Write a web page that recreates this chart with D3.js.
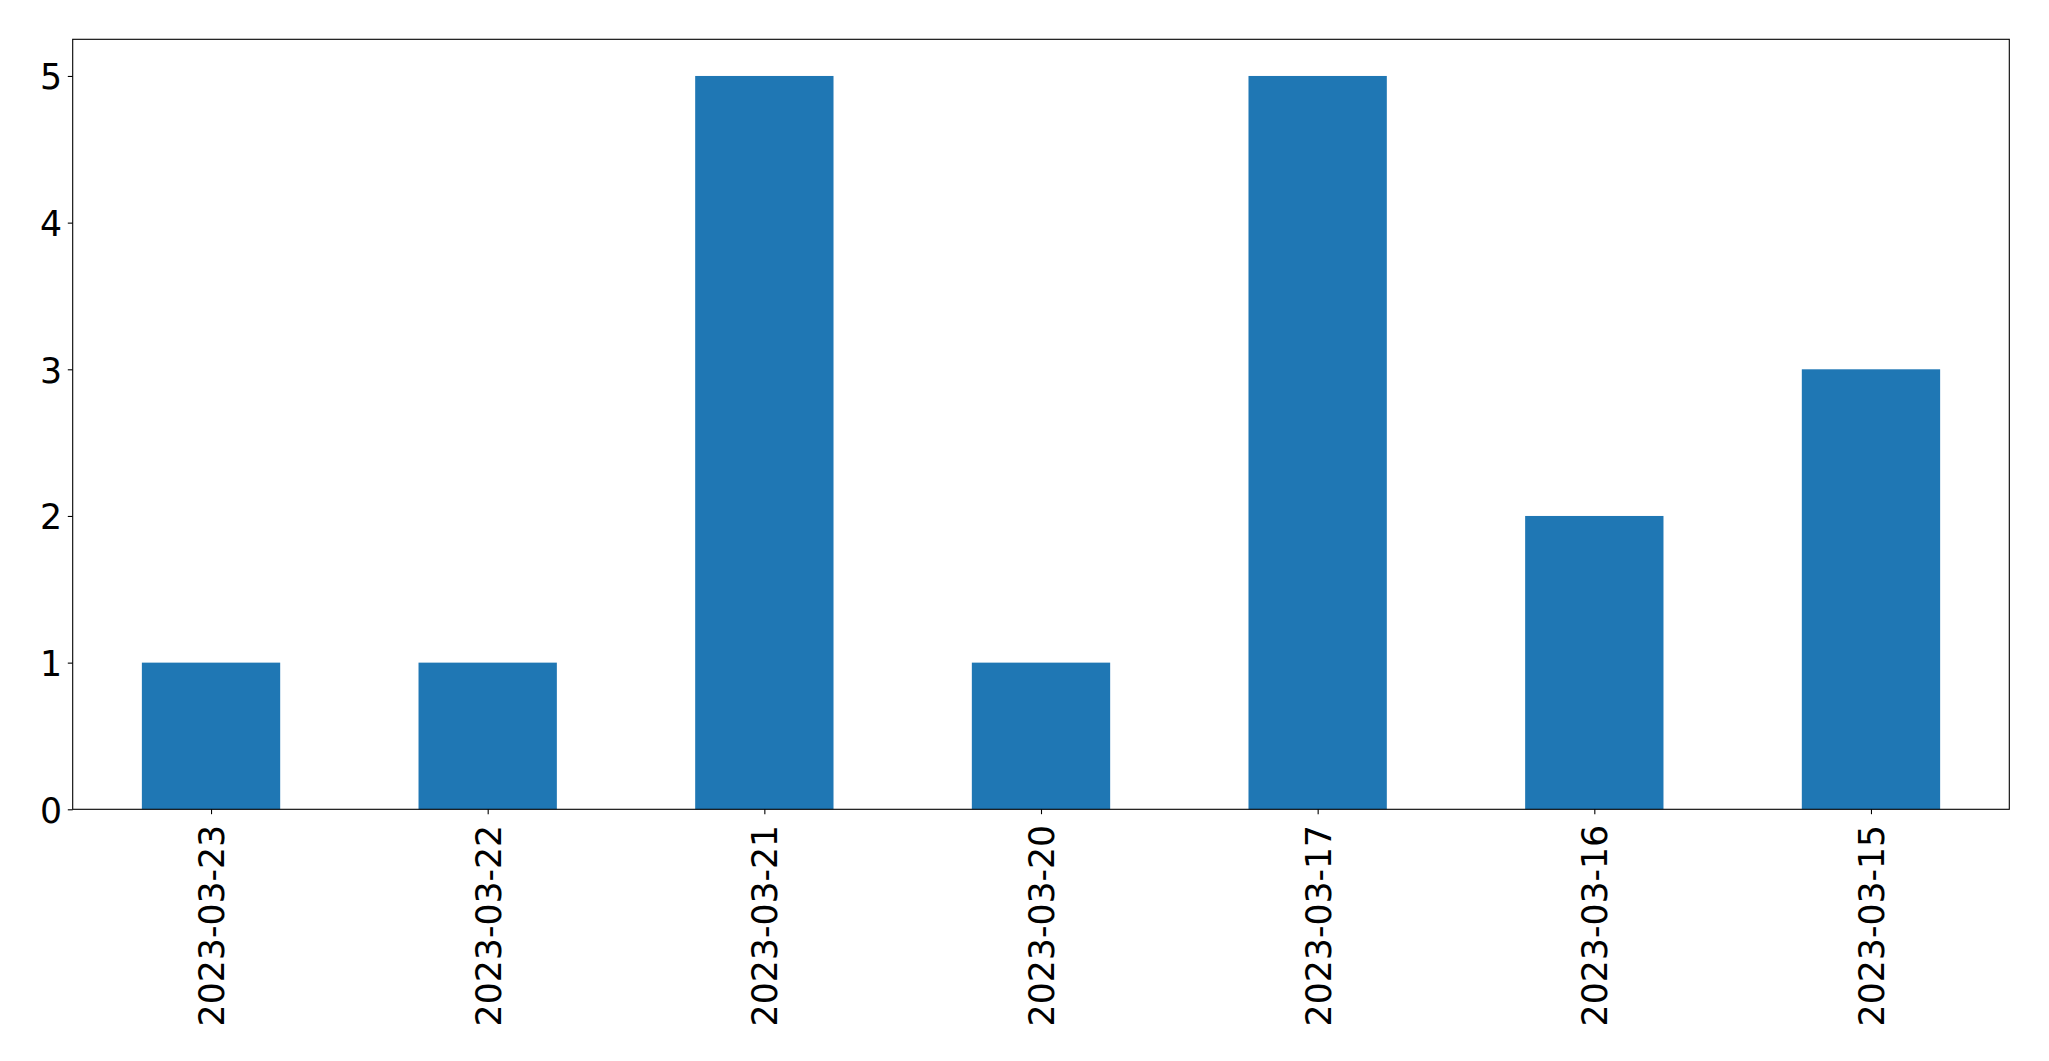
<!DOCTYPE html>
<html>
<head>
<meta charset="utf-8">
<script src="https://cdn.jsdelivr.net/npm/d3@7"></script>
<style>
  html, body { margin: 0; padding: 0; background: #fff; }
  svg { display: block; }
  text { font-family: "DejaVu Sans", sans-serif; fill: #000; }
</style>
</head>
<body>
<script>
const categories = ["2023-03-23", "2023-03-22", "2023-03-21", "2023-03-20", "2023-03-17", "2023-03-16", "2023-03-15"];
const values = [1, 1, 5, 1, 5, 2, 3];
const yTicks = [0, 1, 2, 3, 4, 5];

(function () {
const W = 2049, H = 1061;
const mLeft = 72.7, mRight = 2009.3, mTop = 39.3, mBottom = 809.3;
const fontSize = 34.7;

const svg = d3.select("body").append("svg").attr("width", W).attr("height", H);

const x = d3.scaleLinear().domain([-0.5, categories.length - 0.5]).range([mLeft, mRight]);
const y = d3.scaleLinear().domain([0, 5.25]).range([mBottom, mTop]);
const barW = 0.5;

svg.append("g").selectAll("rect").data(values).join("rect")
  .attr("x", (d, i) => x(i - barW / 2))
  .attr("width", (d, i) => x(i + barW / 2) - x(i - barW / 2))
  .attr("y", d => y(d))
  .attr("height", d => y(0) - y(d))
  .attr("fill", "#1f77b4");

const yAxis = d3.axisLeft(y).tickValues(yTicks).tickSize(4.9).tickPadding(5).tickFormat(d3.format("d"));
const gy = svg.append("g").attr("transform", `translate(${mLeft},0)`).call(yAxis);
gy.select(".domain").remove();
gy.selectAll(".tick line").attr("stroke", "#000").attr("stroke-width", 1.1);
gy.selectAll(".tick text")
  .attr("font-size", fontSize)
  .attr("font-family", "DejaVu Sans, sans-serif")
  .attr("dy", null)
  .attr("y", 12.8)
  .attr("x", -10.5);

const xAxis = d3.axisBottom(x).tickValues(d3.range(categories.length)).tickSize(4.9).tickFormat(i => categories[i]);
const gx = svg.append("g").attr("transform", `translate(0,${mBottom})`).call(xAxis);
gx.select(".domain").remove();
gx.selectAll(".tick line").attr("stroke", "#000").attr("stroke-width", 1.1);
gx.selectAll(".tick text")
  .attr("font-size", fontSize)
  .attr("font-family", "DejaVu Sans, sans-serif")
  .attr("dy", null)
  .attr("y", null)
  .attr("text-anchor", "end")
  .attr("transform", "translate(12.4,15.5) rotate(-90)");

svg.append("rect")
  .attr("x", mLeft).attr("y", mTop)
  .attr("width", mRight - mLeft).attr("height", mBottom - mTop)
  .attr("fill", "none").attr("stroke", "#000").attr("stroke-width", 1.1);
})();
</script>
</body>
</html>
